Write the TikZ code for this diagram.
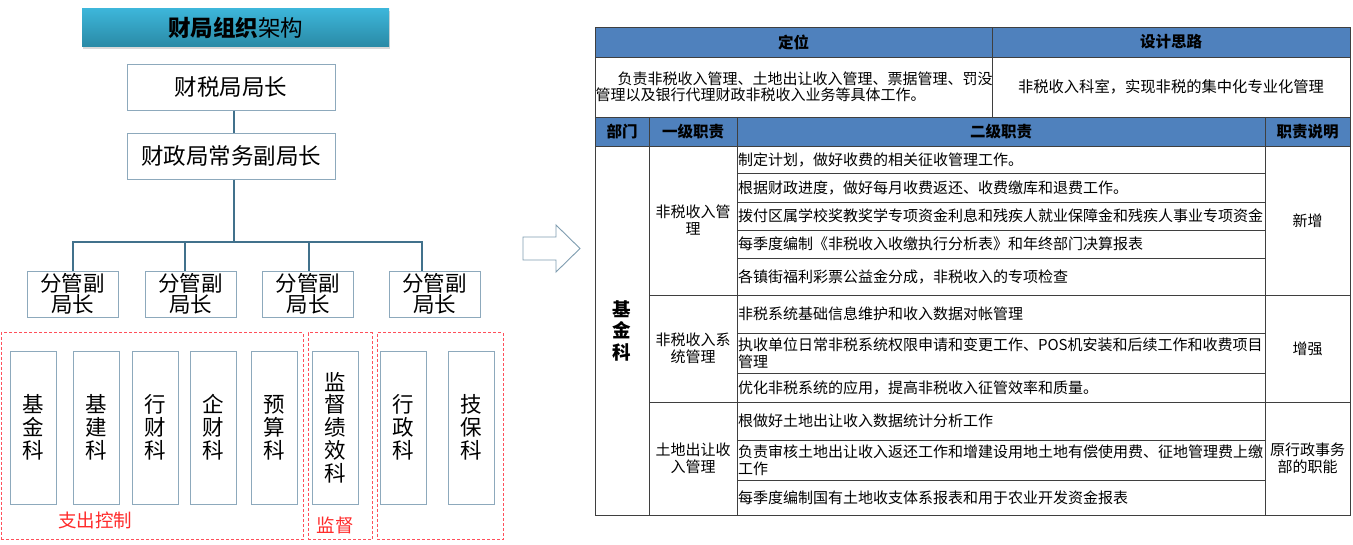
\documentclass[tikz,border=0pt]{standalone}
\usepackage{fontspec}
\setmainfont{Noto Sans CJK SC}
\usepackage{tikz}
\usetikzlibrary{shadows}

\definecolor{boxline}{HTML}{8DA9BC}
\definecolor{connline}{HTML}{41718C}
\definecolor{zonered}{HTML}{FF4F5A}
\definecolor{labelred}{HTML}{FF2A2A}
\definecolor{tline}{HTML}{3F3F3F}
\definecolor{hdrblue}{HTML}{4F81BD}
\definecolor{titletop}{HTML}{3DB6DA}
\definecolor{titlebot}{HTML}{2A8AA6}
\definecolor{arrowline}{HTML}{7F9DB0}

\begin{document}
\begin{tikzpicture}[x=1pt,y=-1pt,
  title/.style={inner sep=0pt,minimum width=307pt,minimum height=38pt,top color=titletop,bottom color=titlebot,drop shadow={shadow xshift=1pt,shadow yshift=-2pt,opacity=0.3},font=\fontsize{22.5}{24}\selectfont},
  orgbox/.style={draw=boxline,line width=1pt,fill=white,inner sep=0pt,align=center},
  deptbox/.style={orgbox,minimum width=46pt,minimum height=153pt,font=\fontsize{21.5}{22.8}\selectfont},
  fgbox/.style={orgbox,minimum width=91pt,minimum height=46pt,font=\fontsize{21.5}{21.5}\selectfont},
  conn/.style={draw=connline,line width=1.2pt},
  zone/.style={draw=zonered,densely dashed,line width=0.8pt,inner sep=0pt,minimum height=207pt},
  zonelabel/.style={text=labelred,inner sep=0pt,font=\fontsize{18.5}{20}\selectfont},
  hdr/.style={draw=tline,fill=hdrblue,line width=0.9pt,inner sep=0pt,font=\bfseries\fontsize{15.5}{17}\selectfont},
  cell/.style={draw=tline,line width=0.9pt,inner sep=0pt,align=center,font=\fontsize{15}{17}\selectfont},
  duty/.style={cell,align=left,text width=526pt,inner xsep=1pt,minimum width=528pt,font=\fontsize{15}{17}\selectfont}]
  \useasboundingbox (0,0) rectangle (1353,544);

  % org chart
  \node[title] (title) at (235.5,27.5) {{\bfseries 财局组织}架构};
  \node[orgbox,minimum width=208pt,minimum height=46pt,font=\fontsize{22.5}{24}\selectfont] (juzhang) at (231,87) {财税局局长};
  \node[orgbox,minimum width=208pt,minimum height=46pt,font=\fontsize{22.5}{24}\selectfont] (vice) at (231,156) {财政局常务副局长};
  \node[fgbox] (f1) at (72.5,294) {分管副\\局长};
  \node[fgbox] (f2) at (190.5,294) {分管副\\局长};
  \node[fgbox] (f3) at (308,294) {分管副\\局长};
  \node[fgbox] (f4) at (434.5,294) {分管副\\局长};
  \coordinate (bus) at (234,242);
  \draw[conn] ([xshift=3pt]juzhang.south) -- ([xshift=3pt]vice.north);
  \draw[conn] ([xshift=3pt]vice.south) -- (bus);
  \draw[conn] (bus) -| ([xshift=0.5pt]f1.north);
  \draw[conn] (bus) -| ([xshift=-5.5pt]f2.north);
  \draw[conn] (bus) -| ([xshift=1pt]f3.north);
  \draw[conn] (bus) -| ([xshift=-12.5pt]f4.north);

  % groups of departments
  \node[zone,minimum width=302pt] (zctrl) at (152,436) {};
  \node[zone,minimum width=64pt] (zsup) at (340,436) {};
  \node[zone,minimum width=126pt] (zadm) at (440,436) {};
  \node[zonelabel] (lctrl) at (95,520) {支出控制};
  \node[zonelabel] (lsup) at (335,525) {监督};
  \node[deptbox] (jijin) at (33,427.5) {基\\金\\科};
  \node[deptbox] (jijian) at (96,427.5) {基\\建\\科};
  \node[deptbox] (xingcai) at (155,427.5) {行\\财\\科};
  \node[deptbox] (qicai) at (213,427.5) {企\\财\\科};
  \node[deptbox] (yusuan) at (274,427.5) {预\\算\\科};
  \node[deptbox] (jiandu) at (335,427.5) {监\\督\\绩\\效\\科};
  \node[deptbox] (xingzheng) at (403,427.5) {行\\政\\科};
  \node[deptbox] (jibao) at (471,427.5) {技\\保\\科};

  % block arrow
  \draw[draw=arrowline,line width=0.9pt,fill=white] (523,237) -- (556,237) -- (556,225) -- (580,248.5) -- (556,272) -- (556,260) -- (523,260) -- cycle;

  % table
  \node[hdr,minimum width=397pt,minimum height=30pt] (hdw) at (793.5,42) {定位};
  \node[hdr,minimum width=358pt,minimum height=30pt] (hsj) at (1171,42) {设计思路};
  \node[cell,minimum width=397pt,minimum height=60pt,text width=396pt,inner xsep=0.5pt,align=left,font=\fontsize{15}{16.5}\selectfont] (dw) at (793.5,87) {\hspace*{22pt}负责非税收入管理、土地出让收入管理、票据管理、罚没\\管理以及银行代理财政非税收入业务等具体工作。};
  \node[cell,minimum width=358pt,minimum height=60pt,font=\fontsize{15.3}{17}\selectfont] (sj) at (1171,87) {非税收入科室，实现非税的集中化专业化管理};
  \node[hdr,minimum width=54pt,minimum height=29pt] (hbm) at (622,131.5) {部门};
  \node[hdr,minimum width=88pt,minimum height=29pt] (hyj) at (693,131.5) {一级职责};
  \node[hdr,minimum width=528pt,minimum height=29pt] (hej) at (1001,131.5) {二级职责};
  \node[hdr,minimum width=85pt,minimum height=29pt] (hsm) at (1307.5,131.5) {职责说明};

  \node[cell,minimum width=54pt,minimum height=369pt,font=\bfseries\fontsize{18.5}{21.5}\selectfont] (bm) at (622,330.5) {基\\金\\科};
  \node[cell,minimum width=88pt,minimum height=149pt] (yj1) at (693,220.5) {非税收入管\\理};
  \node[cell,minimum width=88pt,minimum height=107pt] (yj2) at (693,348.5) {非税收入系\\统管理};
  \node[cell,minimum width=88pt,minimum height=113pt] (yj3) at (693,458.5) {土地出让收\\入管理};
  \node[cell,minimum width=85pt,minimum height=149pt] (sm1) at (1307.5,220.5) {新增};
  \node[cell,minimum width=85pt,minimum height=107pt] (sm2) at (1307.5,348.5) {增强};
  \node[cell,minimum width=85pt,minimum height=113pt] (sm3) at (1307.5,458.5) {原行政事务\\部的职能};

  \node[duty,minimum height=27pt] (ej1) at (1001,159.5) {制定计划，做好收费的相关征收管理工作。};
  \node[duty,minimum height=29pt] (ej2) at (1001,187.5) {根据财政进度，做好每月收费返还、收费缴库和退费工作。};
  \node[duty,minimum height=28pt] (ej3) at (1001,216) {拨付区属学校奖教奖学专项资金利息和残疾人就业保障金和残疾人事业专项资金};
  \node[duty,minimum height=28pt] (ej4) at (1001,244) {每季度编制《非税收入收缴执行分析表》和年终部门决算报表};
  \node[duty,minimum height=37pt] (ej5) at (1001,276.5) {各镇街福利彩票公益金分成，非税收入的专项检查};
  \node[duty,minimum height=38pt] (ej6) at (1001,314) {非税系统基础信息维护和收入数据对帐管理};
  \node[duty,minimum height=40pt] (ej7) at (1001,353) {执收单位日常非税系统权限申请和变更工作、POS机安装和后续工作和收费项目\\管理};
  \node[duty,minimum height=29pt] (ej8) at (1001,387.5) {优化非税系统的应用，提高非税收入征管效率和质量。};
  \node[duty,minimum height=38pt] (ej9) at (1001,421) {根做好土地出让收入数据统计分析工作};
  \node[duty,minimum height=40pt] (ej10) at (1001,460) {负责审核土地出让收入返还工作和增建设用地土地有偿使用费、征地管理费上缴\\工作};
  \node[duty,minimum height=35pt] (ej11) at (1001,497.5) {每季度编制国有土地收支体系报表和用于农业开发资金报表};
\end{tikzpicture}
\end{document}
